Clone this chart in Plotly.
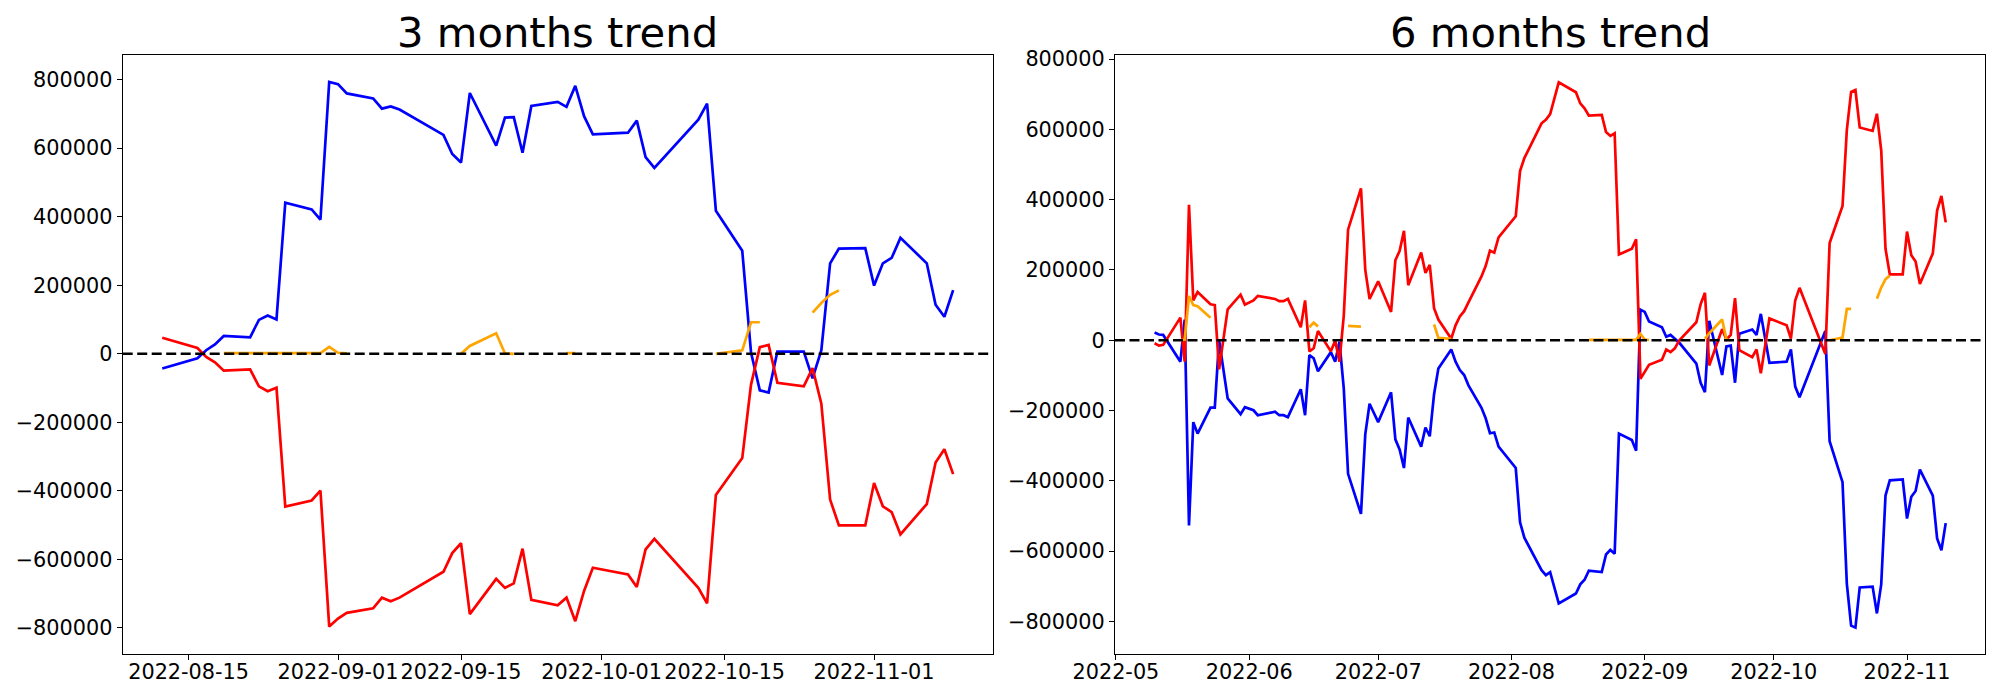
import plotly.graph_objects as go

# ---------------- 3 months trend (left) ----------------
L_DATES = ["2022-08-12", "2022-08-16", "2022-08-17", "2022-08-18", "2022-08-19",
           "2022-08-22", "2022-08-23", "2022-08-24", "2022-08-25", "2022-08-26",
           "2022-08-29", "2022-08-30", "2022-08-31", "2022-09-01", "2022-09-02",
           "2022-09-05", "2022-09-06", "2022-09-07", "2022-09-08", "2022-09-13",
           "2022-09-14", "2022-09-15", "2022-09-16", "2022-09-19", "2022-09-20",
           "2022-09-21", "2022-09-22", "2022-09-23", "2022-09-26", "2022-09-27",
           "2022-09-28", "2022-09-29", "2022-09-30", "2022-10-04", "2022-10-05",
           "2022-10-06", "2022-10-07", "2022-10-12", "2022-10-13", "2022-10-14",
           "2022-10-17", "2022-10-18", "2022-10-19", "2022-10-20", "2022-10-21",
           "2022-10-24", "2022-10-25", "2022-10-26", "2022-10-27", "2022-10-28",
           "2022-10-31", "2022-11-01", "2022-11-02", "2022-11-03", "2022-11-04",
           "2022-11-07", "2022-11-08", "2022-11-09", "2022-11-10"]
L_BLUE = [-42900, -13000, 10400, 27300, 52000,
          48100, 98900, 111900, 100200, 441000,
          421500, 391500, 793500, 787000, 759700,
          745000, 715400, 722000, 712800, 638700,
          582800, 558000, 761000, 607500, 689400,
          690700, 586600, 723200, 735000, 720600,
          781800, 693300, 640000, 645200, 680300,
          573700, 542400, 683000, 729800, 417600,
          300500, 3900, -106700, -113200, 6500,
          6500, -71500, 10400, 264000, 307000,
          308300, 199000, 264000, 279700, 338200,
          264000, 143100, 108000, 186000]
L_RED = [46800, 17000, -9100, -24700, -49400,
         -45500, -95000, -109300, -98900, -446000,
         -428000, -399000, -796000, -772700, -755800,
         -742800, -711500, -722000, -711500, -636000,
         -581500, -552800, -759700, -656900, -683000,
         -670000, -568500, -718000, -733600, -711500,
         -780400, -692000, -624400, -643900, -680300,
         -571000, -539800, -683000, -728400, -412000,
         -304400, -89800, 19500, 26000, -84600,
         -95000, -41600, -145700, -425400, -500800,
         -500800, -377200, -444900, -461800, -526800,
         -438400, -317400, -278400, -351200]
L_ORANGE = [None, None, None, None, 2000,
            2000, 2000, 2000, 2000, 2000,
            2000, 2000, 20000, 3000, 1000,
            None, None, None, None, None,
            None, 0, 23000, 60000, 1000,
            0, None, None, None, 2000,
            2000, None, None, None, None,
            None, None, None, None, 0,
            10000, 92000, 92000, None, None,
            None, 120000, 148000, 172000, 185000,
            None, None, None, None, None,
            None, None, None, None]

# ---------------- 6 months trend (right) ----------------
R_DATES = ["2022-05-10", "2022-05-11", "2022-05-12", "2022-05-16", "2022-05-17",
           "2022-05-18", "2022-05-19", "2022-05-20", "2022-05-23", "2022-05-24",
           "2022-05-25", "2022-05-27", "2022-05-30", "2022-05-31", "2022-06-02",
           "2022-06-03", "2022-06-07", "2022-06-08", "2022-06-09", "2022-06-10",
           "2022-06-13", "2022-06-14", "2022-06-15", "2022-06-16", "2022-06-17",
           "2022-06-20", "2022-06-21", "2022-06-22", "2022-06-23", "2022-06-24",
           "2022-06-27", "2022-06-28", "2022-06-29", "2022-07-01", "2022-07-04",
           "2022-07-05", "2022-07-06", "2022-07-07", "2022-07-08", "2022-07-11",
           "2022-07-12", "2022-07-13", "2022-07-14", "2022-07-15", "2022-07-18",
           "2022-07-19", "2022-07-20", "2022-07-21", "2022-07-22", "2022-07-25",
           "2022-07-26", "2022-07-27", "2022-07-28", "2022-07-29", "2022-08-02",
           "2022-08-03", "2022-08-04", "2022-08-08", "2022-08-09", "2022-08-10",
           "2022-08-12", "2022-08-16", "2022-08-17", "2022-08-18", "2022-08-19",
           "2022-08-22", "2022-08-23", "2022-08-24", "2022-08-25", "2022-08-26",
           "2022-08-29", "2022-08-30", "2022-08-31", "2022-09-01", "2022-09-02",
           "2022-09-05", "2022-09-06", "2022-09-07", "2022-09-08", "2022-09-09",
           "2022-09-13", "2022-09-14", "2022-09-15", "2022-09-16", "2022-09-19",
           "2022-09-20", "2022-09-21", "2022-09-22", "2022-09-23", "2022-09-26",
           "2022-09-27", "2022-09-28", "2022-09-30", "2022-10-04", "2022-10-05",
           "2022-10-06", "2022-10-07", "2022-10-13", "2022-10-14", "2022-10-17",
           "2022-10-18", "2022-10-19", "2022-10-20", "2022-10-21", "2022-10-24",
           "2022-10-25", "2022-10-26", "2022-10-27", "2022-10-28", "2022-10-31",
           "2022-11-01", "2022-11-02", "2022-11-03", "2022-11-04", "2022-11-07",
           "2022-11-08", "2022-11-09", "2022-11-10"]
R_BLUE = [21800, 16300, 15200, -61000, 58800,
          -527000, -233000, -265700, -191700, -191700,
          0, -165500, -210200, -190600, -199300,
          -213400, -203600, -213400, -213400, -218900,
          -139400, -213400, -42500, -51200, -88200,
          -33800, -61000, -4400, -137200, -380100,
          -494400, -267900, -180800, -233000, -148100,
          -282100, -311500, -363700, -220000, -302700,
          -248300, -273300, -153500, -80600, -26100,
          -61000, -84900, -99100, -128500, -191700,
          -222200, -264600, -262400, -302700, -363700,
          -518400, -561900, -654500, -668600, -659900,
          -749200, -720900, -694800, -681700, -655600,
          -659900, -609800, -596800, -607700, -265700,
          -284200, -314700, 87100, 80600, 53400,
          37000, 9800, 15200, 4400, -6500,
          -66400, -120900, -148100, 55500, -99100,
          -17400, -15200, -120900, 18500, 30500,
          15200, 75100, -64300, -61000, -26100,
          -131800, -162300, 26100, -287500, -404000,
          -692600, -812400, -817900, -703500, -701300,
          -777500, -694800, -442100, -398600, -396400,
          -507500, -445400, -429100, -368100, -442100,
          -564100, -597900, -520500]
R_RED = [-8700, -15200, -13100, 64300, -61000,
         385500, 113300, 137200, 102400, 100200,
         -82800, 88200, 129600, 101300, 113300,
         126300, 117600, 111100, 111100, 117600,
         37000, 113300, -31600, -22900, 26100,
         -31600, -1100, -61000, 69700, 314700,
         432300, 200400, 117600, 167700, 80600,
         227600, 254800, 311500, 156800, 249400,
         191700, 214500, 91500, 58800, 4400,
         42500, 67500, 82800, 107800, 180800,
         211300, 254800, 249400, 292900, 352800,
         481300, 518400, 617500, 627300, 643600,
         734000, 705700, 674100, 659900, 639200,
         641400, 592400, 581500, 589100, 243900,
         260300, 287500, -110000, -88200, -69700,
         -55500, -26100, -33800, -22900, -1100,
         51200, 102400, 135000, -71900, 31600,
         2200, 15200, 119800, -28300, -47900,
         -26100, -93700, 62100, 42500, 4400,
         113300, 149200, -39200, 276600, 382200,
         597900, 706800, 712200, 605500, 595700,
         644700, 540100, 260300, 187300, 187300,
         309300, 241800, 224300, 160100, 247200,
         369200, 410600, 335400]
R_ORANGE = [None, None, None, 0, 2000,
            126000, 100000, 97000, 64000, None,
            None, None, None, None, None,
            None, None, None, None, None,
            None, None, 37000, 50000, 39000,
            None, None, None, None, 41000,
            39000, None, None, None, None,
            None, None, None, None, None,
            None, None, 45000, 6500, 4000,
            None, None, None, None, None,
            None, None, None, None, None,
            None, None, None, None, None,
            None, None, None, None, 1000,
            1000, 1000, 1000, 1000, 1000,
            1000, 1000, 18000, 2000, 1000,
            None, None, None, None, None,
            None, None, 4000, 20000, 59000,
            2000, 0, None, None, None,
            1000, 1000, None, None, None,
            None, None, None, 0, 7600,
            89000, 89000, None, None, None,
            118000, 150000, 174000, 184000, None,
            None, None, None, None, None,
            None, None, None]

TITLES = ["3 months trend", "6 months trend"]
L_XTICKS = ["2022-08-15", "2022-09-01", "2022-09-15", "2022-10-01", "2022-10-15", "2022-11-01"]
R_XTICKS = ["2022-05-01", "2022-06-01", "2022-07-01", "2022-08-01", "2022-09-01", "2022-10-01", "2022-11-01"]
R_XLABELS = ["2022-05", "2022-06", "2022-07", "2022-08", "2022-09", "2022-10", "2022-11"]
Y_TICKS = [-800000, -600000, -400000, -200000, 0, 200000, 400000, 600000, 800000]
Y_LABELS = [("\u2212" + str(-v)) if v < 0 else str(v) for v in Y_TICKS]

BLUE, RED, ORANGE = "#0000ff", "#ff0000", "#ffa500"
FONT = "DejaVu Sans"
W, H = 2000, 700
OFF = 8  # page body margin offset

fig = go.Figure()

def add_series(dates, blue, red, orange, xa, ya):
    for vals, col in ((blue, BLUE), (red, RED), (orange, ORANGE)):
        fig.add_trace(go.Scatter(x=dates, y=vals, mode="lines",
                                 line=dict(color=col, width=2.7),
                                 connectgaps=False, showlegend=False,
                                 xaxis=xa, yaxis=ya, hoverinfo="skip"))

add_series(L_DATES, L_BLUE, L_RED, L_ORANGE, "x", "y")
add_series(R_DATES, R_BLUE, R_RED, R_ORANGE, "x2", "y2")

# pixel geometry of the two axes boxes (in screen pixels)
LX0, LX1 = 122.7 - OFF, 992.7 - OFF
RX0, RX1 = 1115.0 - OFF, 1985.3 - OFF
YT, YB = 55.3 - OFF, 654.0 - OFF
ydom = [1 - YB / H, 1 - YT / H]

axis_common = dict(showline=True, linecolor="black", linewidth=1.1, mirror=True,
                   ticks="outside", ticklen=5, tickwidth=1.1, tickcolor="black",
                   showgrid=False, zeroline=False, automargin=False,
                   tickfont=dict(family=FONT, size=20.8, color="black"))

fig.update_layout(
    width=W, height=H,
    margin=dict(l=0, r=0, t=0, b=0),
    paper_bgcolor="white", plot_bgcolor="white",
    template="none",
    showlegend=False,
    xaxis=dict(domain=[LX0 / W, LX1 / W], type="date",
               range=["2022-08-07 12:00", "2022-11-14 12:00"],
               tickvals=L_XTICKS, ticktext=L_XTICKS, anchor="y",
               ticklabelstandoff=-6, **axis_common),
    yaxis=dict(domain=ydom, range=[-876000, 871000],
               tickvals=Y_TICKS, ticktext=Y_LABELS, anchor="x", **axis_common),
    xaxis2=dict(domain=[RX0 / W, RX1 / W], type="date",
                range=["2022-04-30 19:00", "2022-11-19 05:00"],
                tickvals=R_XTICKS, ticktext=R_XLABELS, anchor="y2",
                ticklabelstandoff=-6, **axis_common),
    yaxis2=dict(domain=ydom, range=[-893000, 811000],
                tickvals=Y_TICKS, ticktext=Y_LABELS, anchor="x2", **axis_common),
)

# dashed zero lines across each axes
for xr, yr in (("x domain", "y"), ("x2 domain", "y2")):
    fig.add_shape(type="line", xref=xr, yref=yr, x0=0, x1=1, y0=0, y1=0,
                  line=dict(color="black", width=2.6, dash="10px,4.5px"), layer="above")

# titles
for title, cx in zip(TITLES, ((LX0 + LX1) / 2, (RX0 + RX1) / 2)):
    fig.add_annotation(text=title, xref="paper", yref="paper",
                       x=cx / W, y=1 - (32.6 - OFF) / H, xanchor="center", yanchor="middle",
                       showarrow=False, font=dict(family=FONT, size=41.7, color="black"))

fig.write_html("out.html")
